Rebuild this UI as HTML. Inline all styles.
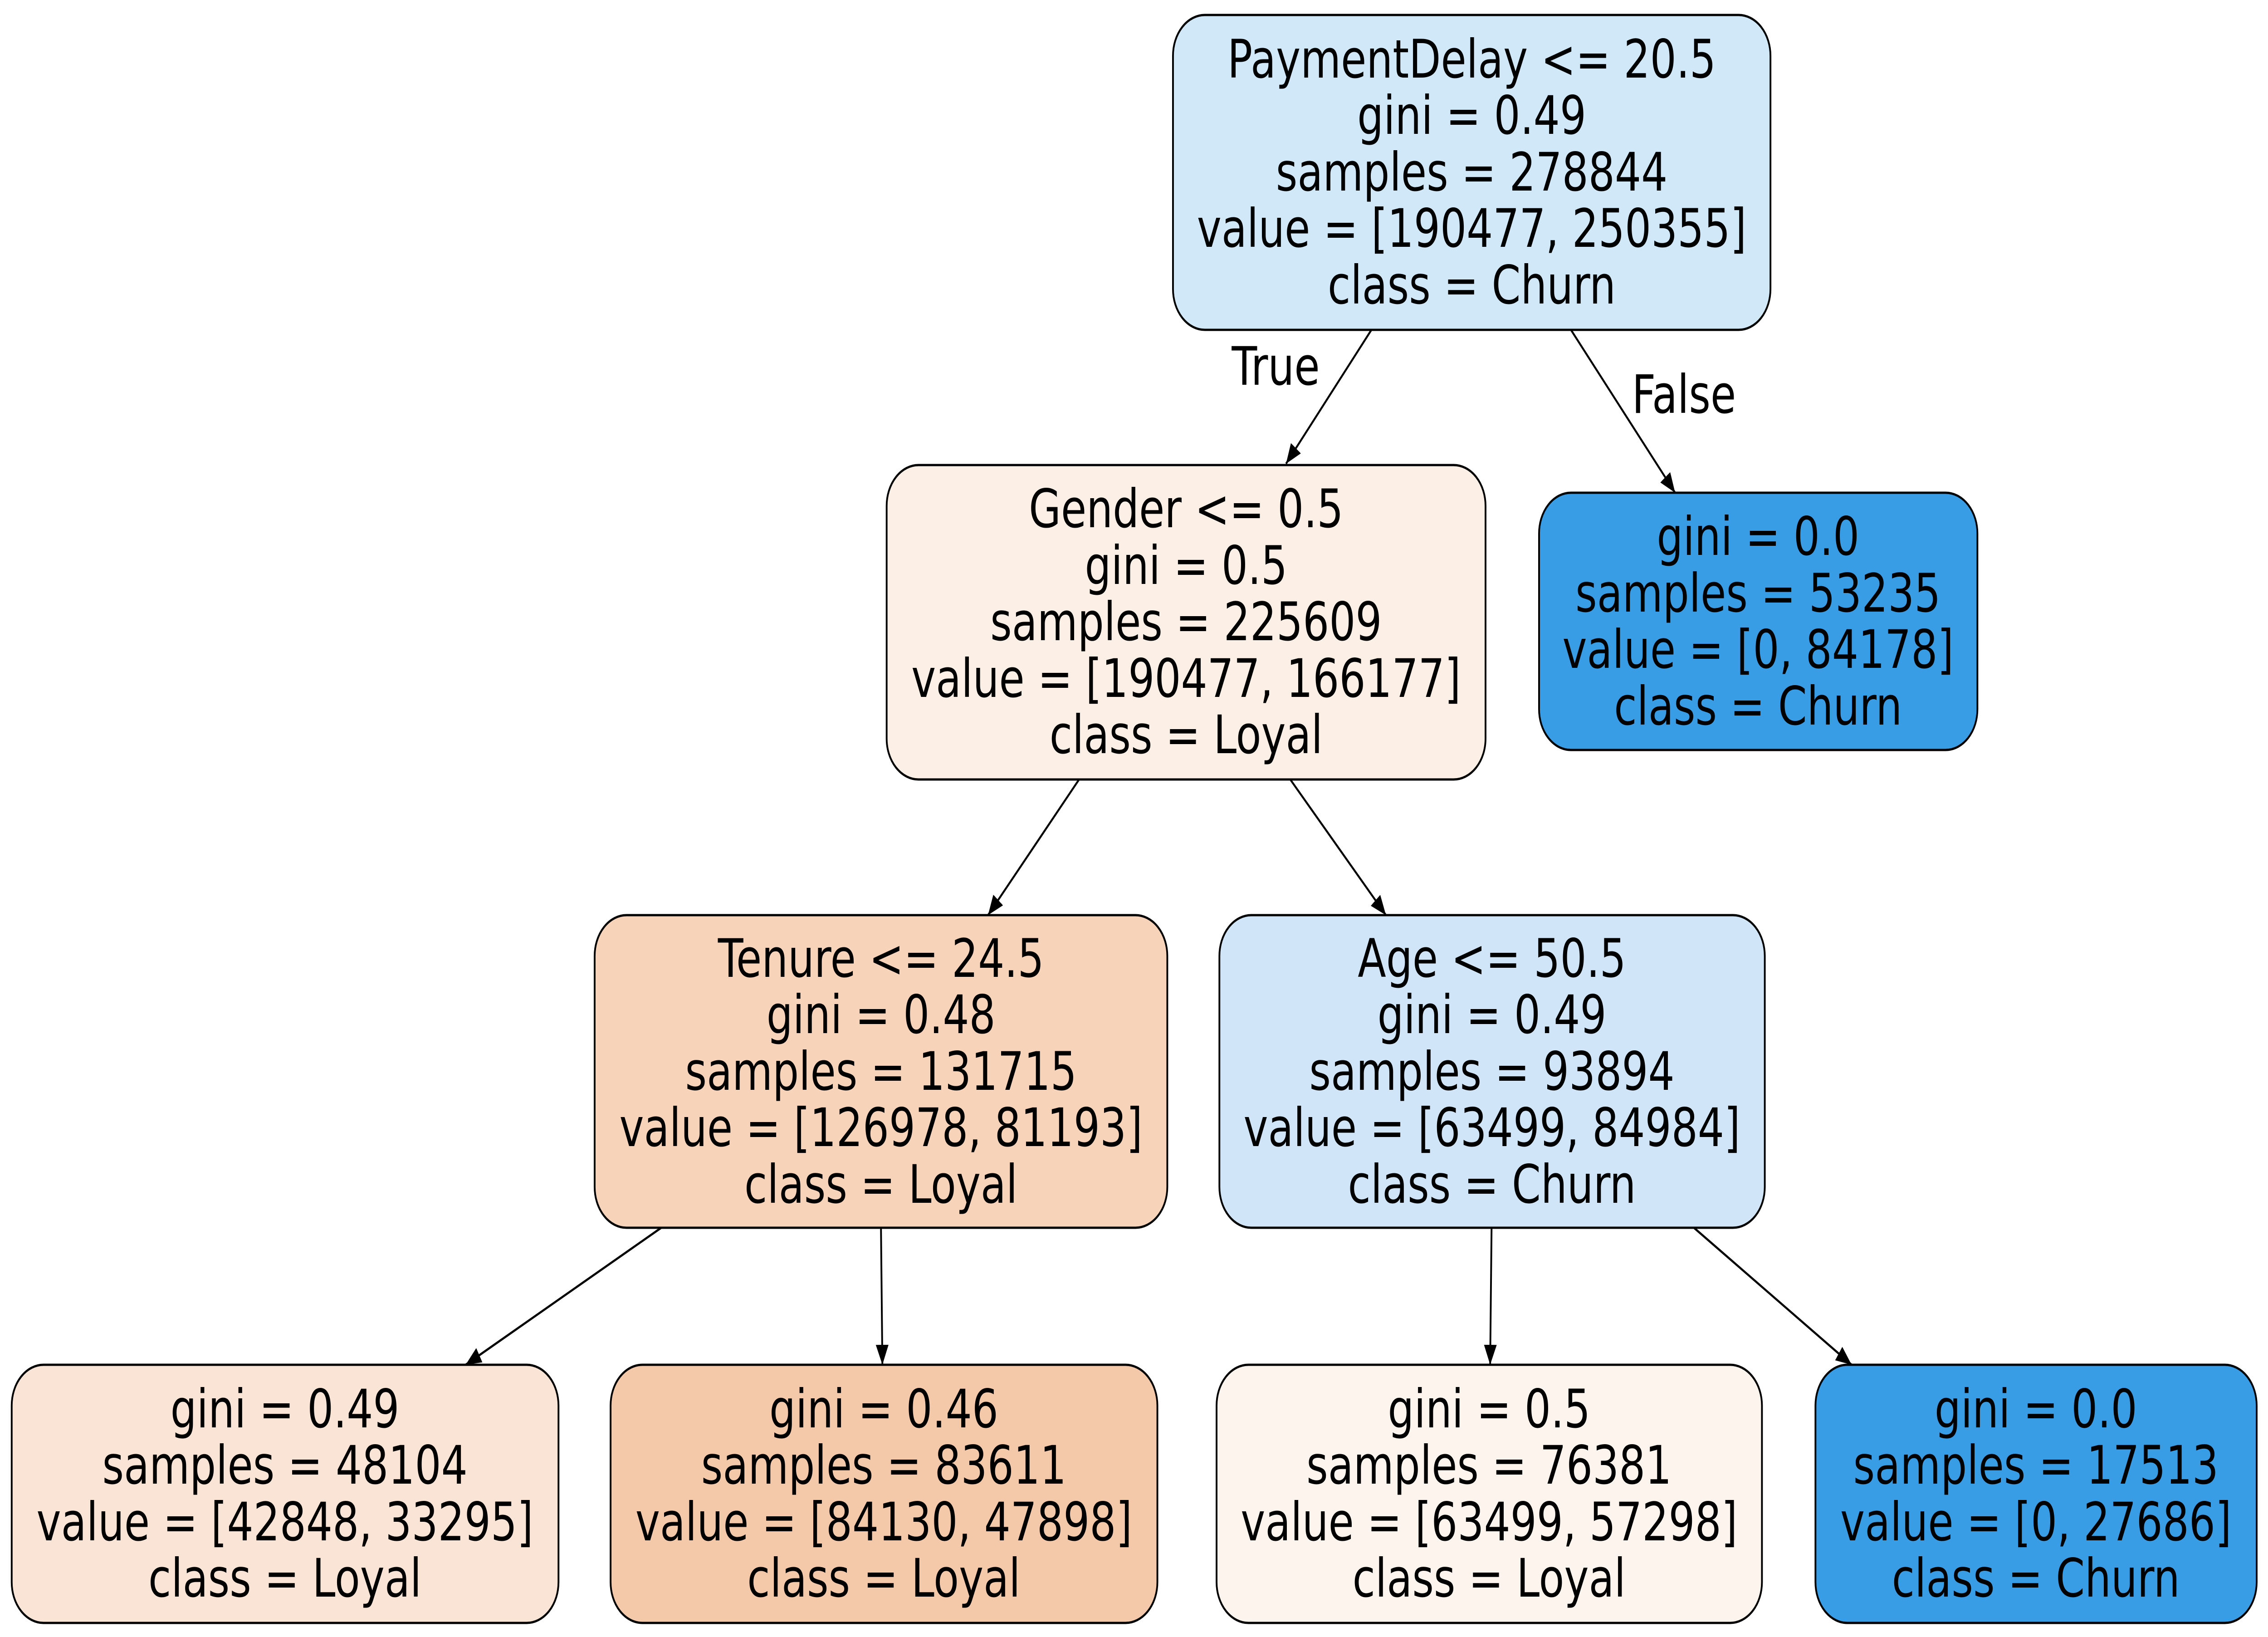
<!DOCTYPE html>
<html><head><meta charset="utf-8"><style>html,body{margin:0;padding:0;background:#fff;width:100%;height:100%;overflow:hidden}svg{display:block;width:100vw;height:100vh}</style></head>
<body>
<svg xmlns="http://www.w3.org/2000/svg" viewBox="0 0 6400 3608" preserveAspectRatio="none">
<defs>
<marker id="a" markerUnits="userSpaceOnUse" markerWidth="50" markerHeight="40" refX="44" refY="18" orient="auto">
<path d="M0,0 L44,18 L0,36 Z" fill="#000"/>
</marker>
</defs>
<g stroke="#000" stroke-width="5" fill="none">
<line x1="3870" y1="727" x2="3629" y2="1022" marker-end="url(#a)"/>
<line x1="4433" y1="727" x2="4727" y2="1086" marker-end="url(#a)"/>
<line x1="3045" y1="1718" x2="2788" y2="2017" marker-end="url(#a)"/>
<line x1="3641" y1="1718" x2="3911" y2="2017" marker-end="url(#a)"/>
<line x1="1866" y1="2706" x2="1314" y2="3008" marker-end="url(#a)"/>
<line x1="2486" y1="2706" x2="2490" y2="3008" marker-end="url(#a)"/>
<line x1="4209" y1="2706" x2="4205" y2="3008" marker-end="url(#a)"/>
<line x1="4780" y1="2706" x2="5225" y2="3008" marker-end="url(#a)"/>
</g>
<g stroke="#000" stroke-width="5">
<rect x="3310" y="33" width="1686" height="694" rx="90" fill="#d1e8f9"/>
<rect x="2502" y="1025" width="1690" height="693" rx="90" fill="#fcefe6"/>
<rect x="4343" y="1086" width="1237" height="567" rx="90" fill="#399de5"/>
<rect x="1678" y="2017" width="1616" height="689" rx="90" fill="#f6d3b9"/>
<rect x="3441" y="2017" width="1539" height="689" rx="90" fill="#d0e6f8"/>
<rect x="33" y="3008" width="1543" height="569" rx="90" fill="#f9e4d5"/>
<rect x="1723" y="3008" width="1543" height="569" rx="90" fill="#f4c9aa"/>
<rect x="3433" y="3008" width="1539" height="569" rx="90" fill="#fdf4ee"/>
<rect x="5123" y="3008" width="1245" height="569" rx="90" fill="#399de5"/>
</g>
<g font-family="'DejaVu Sans','Liberation Sans',sans-serif" font-size="117" text-anchor="middle" dominant-baseline="central" fill="#000">
<text x="4153" y="131">PaymentDelay &lt;= 20.5</text>
<text x="4153" y="255">gini = 0.49</text>
<text x="4153" y="380">samples = 278844</text>
<text x="4153" y="504">value = [190477, 250355]</text>
<text x="4153" y="629">class = Churn</text>

<text x="3600" y="808">True</text>
<text x="4752" y="870">False</text>

<text x="3347" y="1122">Gender &lt;= 0.5</text>
<text x="3347" y="1247">gini = 0.5</text>
<text x="3347" y="1371">samples = 225609</text>
<text x="3347" y="1496">value = [190477, 166177]</text>
<text x="3347" y="1620">class = Loyal</text>

<text x="4961" y="1183">gini = 0.0</text>
<text x="4961" y="1308">samples = 53235</text>
<text x="4961" y="1432">value = [0, 84178]</text>
<text x="4961" y="1557">class = Churn</text>

<text x="2486" y="2113">Tenure &lt;= 24.5</text>
<text x="2486" y="2237">gini = 0.48</text>
<text x="2486" y="2362">samples = 131715</text>
<text x="2486" y="2486">value = [126978, 81193]</text>
<text x="2486" y="2611">class = Loyal</text>

<text x="4210" y="2113">Age &lt;= 50.5</text>
<text x="4210" y="2237">gini = 0.49</text>
<text x="4210" y="2362">samples = 93894</text>
<text x="4210" y="2486">value = [63499, 84984]</text>
<text x="4210" y="2611">class = Churn</text>

<text x="804" y="3106">gini = 0.49</text>
<text x="804" y="3230">samples = 48104</text>
<text x="804" y="3355">value = [42848, 33295]</text>
<text x="804" y="3479">class = Loyal</text>

<text x="2494" y="3106">gini = 0.46</text>
<text x="2494" y="3230">samples = 83611</text>
<text x="2494" y="3355">value = [84130, 47898]</text>
<text x="2494" y="3479">class = Loyal</text>

<text x="4202" y="3106">gini = 0.5</text>
<text x="4202" y="3230">samples = 76381</text>
<text x="4202" y="3355">value = [63499, 57298]</text>
<text x="4202" y="3479">class = Loyal</text>

<text x="5745" y="3106">gini = 0.0</text>
<text x="5745" y="3230">samples = 17513</text>
<text x="5745" y="3355">value = [0, 27686]</text>
<text x="5745" y="3479">class = Churn</text>
</g>
</svg>
</body></html>
